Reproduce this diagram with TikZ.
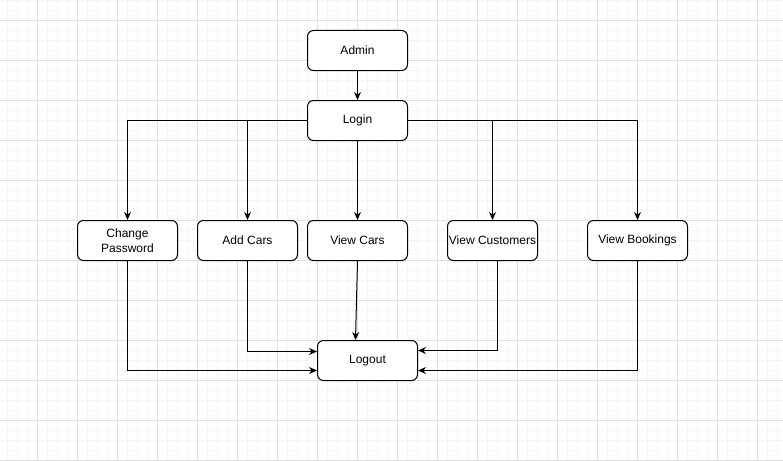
\documentclass[tikz,border=0pt]{standalone}
\usepackage{fontspec}
\setmainfont{Liberation Sans}
\usepackage{tikz}
\usetikzlibrary{arrows.meta,positioning,calc}

\definecolor{gridminor}{HTML}{F5F5F5}
\definecolor{gridmajor}{HTML}{E0E0E0}

\begin{document}
\begin{tikzpicture}[
  x=1pt, y=-1pt,
  >={Stealth[length=8pt,width=7pt]},
  every node/.style={font=\fontsize{12}{14.5}\selectfont},
  box/.style={draw, fill=white, rounded corners=6pt, line width=1pt, minimum width=100pt, minimum height=40pt, inner sep=1pt, align=center},
  arr/.style={->, line width=1pt},
  minorgrid/.style={gridminor, line width=1pt},
  majorgrid/.style={gridmajor, line width=1pt},
]
  \useasboundingbox (0,0) rectangle (783,460);
  \begin{scope}[shift={(0.5,0.5)}]
  % background grid
  \foreach \x in {7,17,...,783} \draw[minorgrid] (\x,-1) -- (\x,460);
  \foreach \y in {0,10,...,460} \draw[minorgrid] (-1,\y) -- (783,\y);
  \foreach \x in {37,77,...,783} \draw[majorgrid] (\x,-1) -- (\x,460);
  \foreach \y in {20,60,...,460} \draw[majorgrid] (-1,\y) -- (783,\y);

  % nodes
  \node[box] (admin)  at (357,50)  {Admin};
  \node[box] (login)  at (357,120) {Login};
  \node[box] (chpw)   at (127,240) {Change\\Password};
  \node[box] (addc)   at (247,240) {Add Cars};
  \node[box] (vcars)  at (357,240) {View Cars};
  \node[box, minimum width=90pt] (vcust) at (492,240) {View Customers};
  \node[box] (vbook)  at (637,240) {View Bookings};
  \node[box] (logout) at (367,360) {Logout};

  % edges
  \draw[arr] (admin) -- (login);
  \draw[arr] (login.west) -| (chpw.north);
  \draw[arr] (login.west) -| (addc.north);
  \draw[arr] (login) -- (vcars);
  \draw[arr] (login.east) -| (vcust.north);
  \draw[arr] (login.east) -| (vbook.north);

  \draw[arr] (chpw.south) |- ([yshift=-10pt]logout.west);
  \draw[arr] (addc.south) |- ([yshift=9pt]logout.west);
  \draw[arr] (vcars.south) -- ([xshift=-12pt]logout.north);
  \draw[arr] ([xshift=5pt]vcust.south) |- ([yshift=10pt]logout.east);
  \draw[arr] (vbook.south) |- ([yshift=-10pt]logout.east);
  \end{scope}
\end{tikzpicture}
\end{document}
